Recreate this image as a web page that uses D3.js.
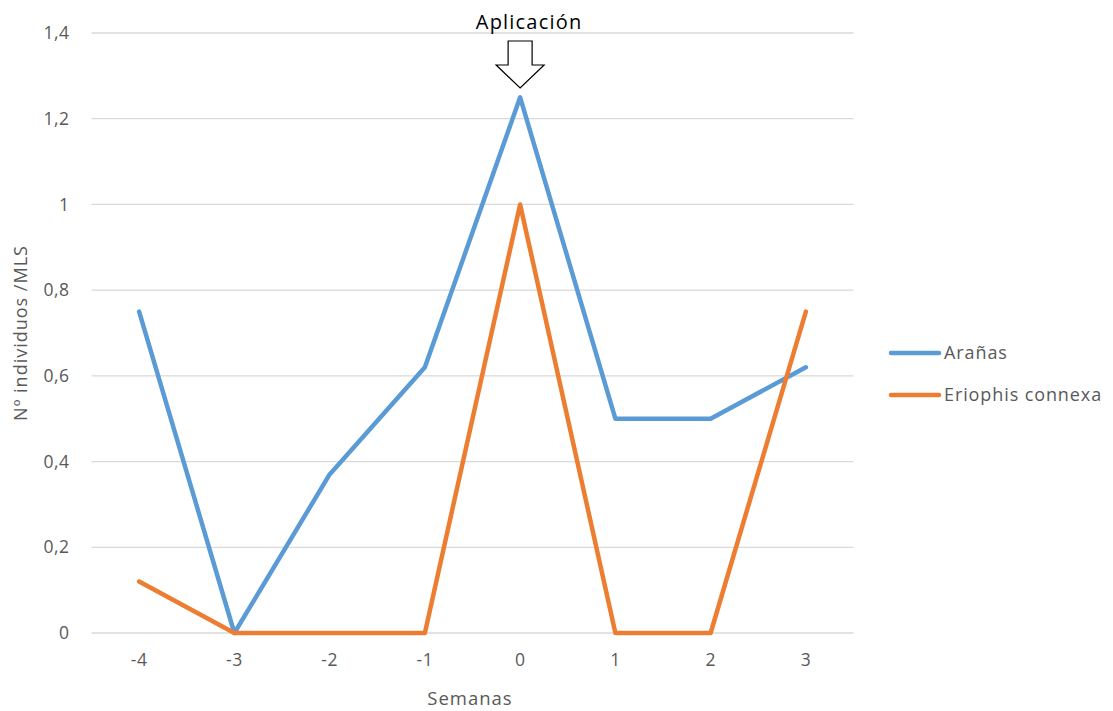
<!DOCTYPE html>
<html>
<head>
<meta charset="utf-8">
<script src="https://cdn.jsdelivr.net/npm/d3@7"></script>
<style>
  html, body { margin: 0; padding: 0; background: #fff; }
  svg { display: block; font-family: "Open Sans", "Noto Sans", sans-serif; }
</style>
</head>
<body>
<svg id="chart" width="1113" height="711"></svg>
<script>
// Weeks relative to the application date
const semanas = [-4, -3, -2, -1, 0, 1, 2, 3];
// Individuals per sample unit
const aranas = [0.75, 0, 0.37, 0.62, 1.25, 0.5, 0.5, 0.62];
const eriophis = [0.12, 0, 0, 0, 1, 0, 0, 0.75];
const yTicks = [0, 0.2, 0.4, 0.6, 0.8, 1, 1.2, 1.4];
const seriesNames = ["Arañas", "Eriophis connexa"];
const seriesColors = ["#5b9bd5", "#ed7d31"];
const marker = { week: 0, label: "Aplicación" };

const svg = d3.select("#chart");
const plot = { left: 91.5, right: 853.5, top: 33, bottom: 633 };
const labelColor = "#595959";

const x = d3.scaleBand().domain(semanas).range([plot.left, plot.right]);
const xc = d => x(d) + x.bandwidth() / 2;
const y = d3.scaleLinear().domain([0, 1.4]).range([plot.bottom, plot.top]);
const fmt = v => d3.format("")(+v.toFixed(1)).replace(".", ",");

// Horizontal gridlines
svg.append("g")
  .selectAll("line").data(yTicks).join("line")
  .attr("x1", plot.left).attr("x2", plot.right)
  .attr("y1", d => y(d)).attr("y2", d => y(d))
  .attr("stroke", "#d9d9d9").attr("stroke-width", 1.3);

// Y axis labels
const yAxis = svg.append("g")
  .attr("transform", `translate(${plot.left - 22},0)`)
  .call(d3.axisLeft(y).tickValues(yTicks).tickFormat(fmt).tickSize(0).tickPadding(0));
yAxis.select(".domain").remove();
yAxis.selectAll("text").attr("font-size", 17.5).attr("fill", labelColor)
  .attr("letter-spacing", 0.5)
  .attr("font-family", "\"Open Sans\", sans-serif");

// X axis labels
const xAxis = svg.append("g")
  .attr("transform", `translate(0,${plot.bottom + 21})`)
  .call(d3.axisBottom(x).tickSize(0).tickPadding(0));
xAxis.select(".domain").remove();
xAxis.selectAll("text").attr("font-size", 17.5).attr("fill", labelColor)
  .attr("letter-spacing", 0.5)
  .attr("font-family", "\"Open Sans\", sans-serif");

// Axis titles
svg.append("text")
  .attr("x", 470).attr("y", 705)
  .attr("text-anchor", "middle").attr("font-size", 18.5).attr("fill", labelColor)
  .attr("letter-spacing", 1)
  .text("Semanas");
svg.append("text")
  .attr("transform", "translate(27,333) rotate(-90)")
  .attr("text-anchor", "middle").attr("font-size", 18).attr("fill", labelColor)
  .attr("letter-spacing", 1)
  .text("Nº individuos /MLS");

// Series lines
const line = d3.line().x((d, i) => xc(semanas[i])).y(d => y(d));
[aranas, eriophis].forEach((vals, i) => {
  svg.append("path")
    .datum(vals)
    .attr("d", line)
    .attr("fill", "none")
    .attr("stroke", seriesColors[i])
    .attr("stroke-width", 4.5)
    .attr("stroke-linejoin", "round")
    .attr("stroke-linecap", "round");
});

// Application marker: label and hollow down arrow
const ax = xc(marker.week);
svg.append("text")
  .attr("x", ax + 9).attr("y", 29)
  .attr("text-anchor", "middle").attr("font-size", 20).attr("fill", "#000")
  .attr("letter-spacing", 1.2)
  .text(marker.label);
const arrowTop = 41, neck = 65, tip = 88;
svg.append("path")
  .attr("d", `M${ax - 12},${arrowTop} L${ax + 12},${arrowTop} L${ax + 12},${neck} L${ax + 24},${neck}
              L${ax},${tip} L${ax - 24},${neck} L${ax - 12},${neck} Z`)
  .attr("fill", "#fff").attr("stroke", "#000").attr("stroke-width", 1.2);

// Legend
const legend = svg.append("g");
seriesNames.forEach((name, i) => {
  const ly = 353 + i * 42;
  legend.append("line")
    .attr("x1", 891).attr("x2", 939).attr("y1", ly).attr("y2", ly)
    .attr("stroke", seriesColors[i]).attr("stroke-width", 4.5).attr("stroke-linecap", "round");
  legend.append("text")
    .attr("x", 944).attr("y", ly + 6)
    .attr("font-size", 18).attr("fill", labelColor)
    .attr("letter-spacing", 0.9)
    .text(name);
});
</script>
</body>
</html>
